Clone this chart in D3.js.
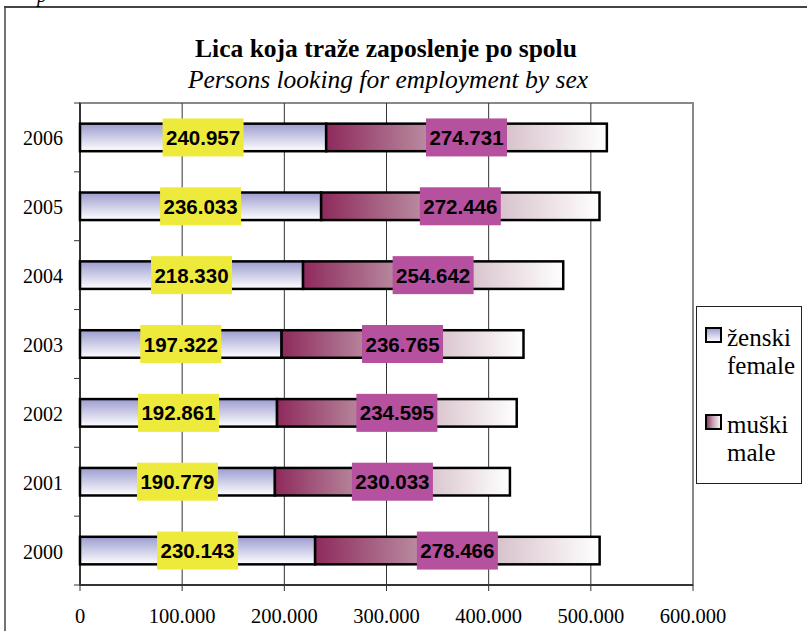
<!DOCTYPE html>
<html lang="en">
<head>
    <meta charset="UTF-8">
    <title></title>
    <script src="https://cdn.jsdelivr.net/npm/d3@7"></script>
    <style>
        body { margin: 0; background: #fff; }
        .serif { font-family: 'Liberation Serif', 'Times New Roman', serif; }
        .sans { font-family: 'Liberation Sans', Arial, sans-serif; }
    </style>
</head>
<body>
    <div id="root"></div>
    <script>
        // data
        const years = ['2006', '2005', '2004', '2003', '2002', '2001', '2000'];
        const female = [240957, 236033, 218330, 197322, 192861, 190779, 230143];
        const male = [274731, 272446, 254642, 236765, 234595, 230033, 278466];
        const xTicks = [0, 100000, 200000, 300000, 400000, 500000, 600000];
        const legendLines = [['ženski', 'female'], ['muški', 'male']];

        const W = 807, H = 631;
        const plot = {left: 80, right: 693, top: 103, bottom: 585};

        const fmtThousands = v => d3.format(',')(v).replace(/,/g, '.');

        const svg = d3.select('#root').append('svg')
            .attr('width', W).attr('height', H);

        const defs = svg.append('defs');
        const gf = defs.append('linearGradient').attr('id', 'gFemale')
            .attr('x1', 0).attr('y1', 0).attr('x2', 0).attr('y2', 1);
        gf.append('stop').attr('offset', '0%').attr('stop-color', '#9c9cd0');
        gf.append('stop').attr('offset', '100%').attr('stop-color', '#ffffff');
        const gm = defs.append('linearGradient').attr('id', 'gMale')
            .attr('x1', 0).attr('y1', 0).attr('x2', 1).attr('y2', 0);
        gm.append('stop').attr('offset', '0%').attr('stop-color', '#8e2a5c');
        gm.append('stop').attr('offset', '45%').attr('stop-color', '#c3a2b0');
        gm.append('stop').attr('offset', '100%').attr('stop-color', '#ffffff');

        // outer frame
        svg.append('line').attr('x1', 4).attr('x2', W).attr('y1', 7).attr('y2', 7)
            .attr('stroke', '#444').attr('stroke-width', 2);
        svg.append('line').attr('x1', 5).attr('x2', 5).attr('y1', 7).attr('y2', H)
            .attr('stroke', '#444').attr('stroke-width', 1.5);
        // cropped caption above the frame
        svg.append('text').attr('class', 'serif').attr('x', 37).attr('y', 2)
            .attr('font-style', 'italic').attr('font-size', 20).text('p');

        // titles
        svg.append('text').attr('class', 'serif').attr('x', 386).attr('y', 57)
            .attr('text-anchor', 'middle').attr('font-weight', 'bold')
            .attr('font-size', 25.5).text('Lica koja traže zaposlenje po spolu');
        svg.append('text').attr('class', 'serif').attr('x', 388).attr('y', 88)
            .attr('text-anchor', 'middle').attr('font-style', 'italic')
            .attr('font-size', 25.5).text('Persons looking for employment by sex');

        const x = d3.scaleLinear().domain([0, 600000]).range([plot.left, plot.right]);
        const y = d3.scaleBand().domain(years).range([plot.top, plot.bottom]).paddingInner(0.6).paddingOuter(0.3);

        // plot border and grid
        svg.append('rect').attr('x', plot.left).attr('y', plot.top)
            .attr('width', plot.right - plot.left).attr('height', plot.bottom - plot.top)
            .attr('fill', 'none').attr('stroke', '#888').attr('stroke-width', 2);
        svg.selectAll('.grid').data(xTicks.slice(1, -1)).enter().append('line')
            .attr('x1', d => x(d)).attr('x2', d => x(d))
            .attr('y1', plot.top).attr('y2', plot.bottom)
            .attr('stroke', '#333').attr('stroke-width', 1);

        // y axis
        const yAxis = svg.append('g').attr('transform', `translate(${plot.left},0)`);
        yAxis.append('line').attr('y1', plot.top).attr('y2', plot.bottom)
            .attr('stroke', '#333').attr('stroke-width', 2);
        const step = (plot.bottom - plot.top) / years.length;
        d3.range(years.length + 1).forEach(i => {
            yAxis.append('line').attr('x1', -6).attr('x2', 0)
                .attr('y1', plot.top + i * step).attr('y2', plot.top + i * step)
                .attr('stroke', '#333');
        });
        yAxis.selectAll('.ylab').data(years).enter().append('text')
            .attr('class', 'serif')
            .attr('x', -17).attr('y', d => y(d) + y.bandwidth() / 2 + 8)
            .attr('text-anchor', 'end').attr('font-size', 20).text(d => d);

        // x axis
        const xAxis = svg.append('g');
        xAxis.append('line').attr('x1', plot.left).attr('x2', plot.right)
            .attr('y1', plot.bottom).attr('y2', plot.bottom)
            .attr('stroke', '#333').attr('stroke-width', 2);
        xAxis.selectAll('.xt').data(xTicks).enter().append('line')
            .attr('x1', d => x(d)).attr('x2', d => x(d))
            .attr('y1', plot.bottom).attr('y2', plot.bottom + 6)
            .attr('stroke', '#333');
        xAxis.selectAll('.xl').data(xTicks).enter().append('text')
            .attr('class', 'serif')
            .attr('x', d => x(d)).attr('y', 623).attr('text-anchor', 'middle')
            .attr('font-size', 20.5)
            .text(d => d === 0 ? '0' : fmtThousands(d / 1000) + '.000');

        // bars
        const rows = years.map((yr, i) => ({yr, f: female[i], m: male[i]}));
        const bars = svg.selectAll('.bar').data(rows).enter().append('g');
        bars.append('rect')
            .attr('x', x(0)).attr('y', d => y(d.yr))
            .attr('width', d => x(d.f) - x(0)).attr('height', y.bandwidth())
            .attr('fill', 'url(#gFemale)').attr('stroke', '#000').attr('stroke-width', 2.5);
        bars.append('rect')
            .attr('x', d => x(d.f)).attr('y', d => y(d.yr))
            .attr('width', d => x(d.f + d.m) - x(d.f)).attr('height', y.bandwidth())
            .attr('fill', 'url(#gMale)').attr('stroke', '#000').attr('stroke-width', 2.5);

        // value labels
        function label(g, cx, cy, txt, bg) {
            const bw = 81, bh = 38;
            g.append('rect').attr('x', cx - bw / 2).attr('y', cy - bh / 2)
                .attr('width', bw).attr('height', bh).attr('fill', bg);
            g.append('text').attr('class', 'sans')
                .attr('x', cx).attr('y', cy + 7.5).attr('text-anchor', 'middle')
                .attr('font-weight', 'bold').attr('font-size', 20.5).attr('fill', '#000').text(txt);
        }
        bars.each(function(d) {
            const g = d3.select(this);
            const cy = y(d.yr) + y.bandwidth() / 2;
            label(g, (x(0) + x(d.f)) / 2, cy, fmtThousands(d.f), '#eeea3c');
            label(g, (x(d.f) + x(d.f + d.m)) / 2, cy, fmtThousands(d.m), '#b5519e');
        });

        // legend
        const lg = svg.append('g');
        lg.append('rect').attr('x', 696.5).attr('y', 306.5).attr('width', 105).attr('height', 177)
            .attr('fill', '#fff').attr('stroke', '#222').attr('stroke-width', 1);
        const fills = ['url(#gFemale)', 'url(#gMale)'];
        legendLines.forEach((lines, i) => {
            const top = 328 + i * 87;
            lg.append('rect').attr('x', 706).attr('y', top).attr('width', 15).attr('height', 14)
                .attr('fill', fills[i]).attr('stroke', '#000').attr('stroke-width', 2);
            lines.forEach((t, j) => {
                lg.append('text').attr('class', 'serif')
                    .attr('x', 727).attr('y', top + 18 + j * 28)
                    .attr('font-size', 25).text(t);
            });
        });
    </script>
</body>
</html>
